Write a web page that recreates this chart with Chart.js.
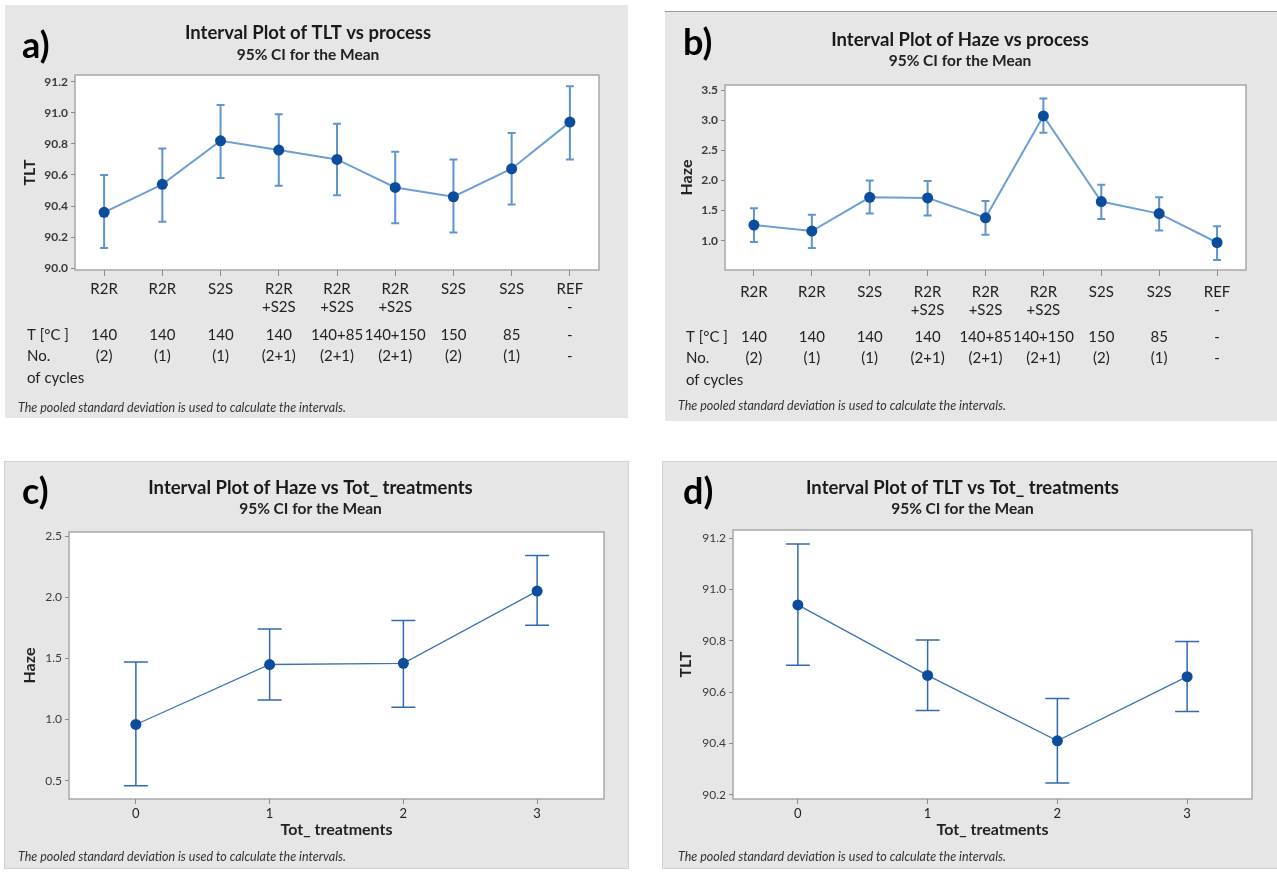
<!DOCTYPE html>
<html>
<head>
<meta charset="utf-8">
<script src="https://cdn.jsdelivr.net/npm/chart.js@4.4.1/dist/chart.umd.min.js"></script>
<style>
    body { margin: 0; background: #fff; width: 1277px; height: 872px; position: relative; overflow: hidden; }
    .panel { position: absolute; background: #e6e6e6; }
</style>
</head>
<body>
<div class="panel" style="left:5px;top:5px;width:623px;height:413px"><canvas id="chartA"></canvas></div>
<div class="panel" style="left:665px;top:11px;width:612px;height:409px;border-top:1px solid #9a9a9a"><canvas id="chartB"></canvas></div>
<div class="panel" style="left:5px;top:462px;width:623px;height:406px;outline:1px solid #d2d2d2"><canvas id="chartC"></canvas></div>
<div class="panel" style="left:663px;top:462px;width:614px;height:406px;outline:1px solid #d2d2d2"><canvas id="chartD"></canvas></div>
<script>
// categories
const processLabels = [['R2R'], ['R2R'], ['S2S'], ['R2R', '+S2S'], ['R2R', '+S2S'], ['R2R', '+S2S'], ['S2S'], ['S2S'], ['REF', '-']];
const tempLabels = ['140', '140', '140', '140', '140+85', '140+150', '150', '85', '-'];
const cycleLabels = ['(2)', '(1)', '(1)', '(2+1)', '(2+1)', '(2+1)', '(2)', '(1)', '-'];
const treatLabels = ['0', '1', '2', '3'];

// a) TLT vs process
const tltProcMean = [90.36, 90.54, 90.82, 90.76, 90.70, 90.52, 90.46, 90.64, 90.94];
const tltProcLow  = [90.13, 90.30, 90.58, 90.53, 90.47, 90.29, 90.23, 90.41, 90.70];
const tltProcHigh = [90.60, 90.77, 91.05, 90.99, 90.93, 90.75, 90.70, 90.87, 91.17];
const tltProcTicks = [90.0, 90.2, 90.4, 90.6, 90.8, 91.0, 91.2];

// b) Haze vs process
const hazeProcMean = [1.26, 1.16, 1.72, 1.71, 1.38, 3.07, 1.65, 1.45, 0.97];
const hazeProcLow  = [0.98, 0.88, 1.45, 1.42, 1.10, 2.79, 1.36, 1.17, 0.68];
const hazeProcHigh = [1.54, 1.43, 2.00, 1.99, 1.66, 3.36, 1.93, 1.72, 1.24];
const hazeProcTicks = [1.0, 1.5, 2.0, 2.5, 3.0, 3.5];

// c) Haze vs Tot_ treatments
const hazeTreatMean = [0.96, 1.45, 1.46, 2.05];
const hazeTreatLow  = [0.46, 1.16, 1.10, 1.77];
const hazeTreatHigh = [1.47, 1.74, 1.81, 2.34];
const hazeTreatTicks = [0.5, 1.0, 1.5, 2.0, 2.5];

// d) TLT vs Tot_ treatments
const tltTreatMean = [90.94, 90.665, 90.41, 90.66];
const tltTreatLow  = [90.705, 90.528, 90.245, 90.524];
const tltTreatHigh = [91.177, 90.803, 90.575, 90.797];
const tltTreatTicks = [90.2, 90.4, 90.6, 90.8, 91.0, 91.2];

const footnote = 'The pooled standard deviation is used to calculate the intervals.';

Chart.defaults.font.family = 'Lato, "Open Sans", sans-serif';
Chart.defaults.color = '#222';

// white plot area with grey frame
const frame = {
    id: 'frame',
    beforeDraw(chart) {
        const a = chart.chartArea, ctx = chart.ctx;
        ctx.save();
        ctx.fillStyle = '#fff';
        ctx.fillRect(a.left, a.top, a.right - a.left, a.bottom - a.top);
        ctx.strokeStyle = '#a8a8a8';
        ctx.lineWidth = 1.5;
        ctx.strokeRect(a.left, a.top, a.right - a.left, a.bottom - a.top);
        ctx.restore();
    }
};

// confidence interval bars
const ciBars = {
    id: 'ciBars',
    beforeDatasetsDraw(chart, args, o) {
        const x = chart.scales.x, y = chart.scales.y, ctx = chart.ctx;
        ctx.save();
        ctx.strokeStyle = o.color;
        ctx.lineWidth = o.width;
        o.low.forEach((lo, i) => {
            const px = x.getPixelForValue(i);
            const y1 = y.getPixelForValue(lo), y2 = y.getPixelForValue(o.high[i]);
            ctx.beginPath();
            ctx.moveTo(px, y1); ctx.lineTo(px, y2);
            ctx.moveTo(px - o.cap, y1); ctx.lineTo(px + o.cap, y1);
            ctx.moveTo(px - o.cap, y2); ctx.lineTo(px + o.cap, y2);
            ctx.stroke();
        });
        ctx.restore();
    }
};

// panel letter, footnote and the extra label rows under the x axis
const extras = {
    id: 'extras',
    afterDraw(chart, args, o) {
        const ctx = chart.ctx, x = chart.scales.x;
        ctx.save();
        ctx.textBaseline = 'middle';
        ctx.fillStyle = '#000';
        ctx.font = 'bold 36px Lato, sans-serif';
        ctx.textAlign = 'left';
        ctx.fillText(o.letter, o.letterPos[0], o.letterPos[1]);

        ctx.fillStyle = '#333';
        ctx.font = 'italic 12.5px Lato, sans-serif';
        ctx.fillText(footnote, o.notePos[0], o.notePos[1]);

        if (o.rows) {
            ctx.fillStyle = '#222';
            ctx.font = '15px Lato, sans-serif';
            o.rows.forEach((row, r) => {
                ctx.textAlign = 'left';
                ctx.fillText(o.headers[r], o.headerX, o.rowY[r]);
                ctx.textAlign = 'center';
                (row || []).forEach((t, i) => ctx.fillText(t, x.getPixelForValue(i), o.rowY[r]));
            });
        }
        ctx.restore();
    }
};

function makeChart(id, c) {
    const dark = c.dark;
    const scales = {
        x: {
            type: 'category',
            offset: true,
            afterFit: s => { s.height = c.xHeight; },
            ticks: { autoSkip: false, maxRotation: 0, minRotation: 0, padding: c.xTickPad,
                     font: { size: c.xTickSize }, color: '#222' },
            grid: { drawOnChartArea: false, drawTicks: true, tickLength: c.xTickLen, color: '#8c8c8c', offset: false },
            border: { display: false },
            title: c.xTitle ? { display: true, text: c.xTitle, font: { size: 16, weight: 'bold' }, color: '#222',
                                padding: { top: 0, bottom: 7.4 } } : { display: false }
        },
        y: {
            min: c.yMin, max: c.yMax,
            afterBuildTicks: s => { s.ticks = c.ticks.map(v => ({ value: v })); },
            afterFit: s => { s.width = c.yWidth; },
            ticks: { callback: v => Number(v).toFixed(1), padding: 3,
                     font: { size: 12, weight: dark ? 'normal' : 'bold' }, color: '#3a3a3a' },
            grid: { drawOnChartArea: false, drawTicks: true, tickLength: 4, color: '#8c8c8c' },
            border: { display: false },
            title: { display: true, text: c.yTitle, font: { size: 16, weight: 'bold' }, color: '#222',
                     padding: { top: 3, bottom: 0 } }
        }
    };
    return new Chart(document.getElementById(id), {
        type: 'line',
        data: {
            labels: c.labels,
            datasets: [{
                data: c.mean,
                borderColor: dark ? '#3a74ba' : '#6d9fd5',
                borderWidth: dark ? 1.3 : 2,
                pointRadius: 5.5,
                pointBackgroundColor: '#0b4c9c',
                pointBorderWidth: 0,
                tension: 0
            }]
        },
        options: {
            responsive: true,
            maintainAspectRatio: false,
            animation: false,
            layout: { padding: c.pad },
            scales: scales,
            plugins: {
                legend: { display: false },
                tooltip: { enabled: false },
                title: { display: true, text: c.title, font: { size: 18.5, weight: 'bold' }, color: '#1a1a1a',
                         padding: { top: c.titleTop, bottom: 0 } },
                subtitle: { display: true, text: '95% CI for the Mean', font: { size: 15.5, weight: 'bold' }, color: '#222',
                            padding: { top: c.subTop, bottom: c.subBottom } },
                ciBars: { low: c.low, high: c.high, color: dark ? '#2f6bb4' : '#5f95cf',
                          width: dark ? 1.5 : 2, cap: dark ? 12 : 4 },
                extras: c.extras
            }
        },
        plugins: [frame, ciBars, extras]
    });
}

makeChart('chartA', {
    labels: processLabels, mean: tltProcMean, low: tltProcLow, high: tltProcHigh,
    ticks: tltProcTicks, yMin: 89.989, yMax: 91.243, yTitle: 'TLT',
    title: 'Interval Plot of TLT vs process',
    pad: { left: 12, right: 29, top: 0, bottom: 0 }, yWidth: 58, xHeight: 148,
    xTickPad: 4, xTickLen: 6, xTickSize: 15,
    titleTop: 16.9, subTop: 1.6, subBottom: 10.7,
    extras: { letter: 'a)', letterPos: [17, 41], notePos: [13, 403],
              rows: [tempLabels, cycleLabels, null], headers: ['T [°C ]', 'No.', 'of cycles'],
              headerX: 22, rowY: [330, 351, 373] }
});

makeChart('chartB', {
    labels: processLabels, mean: hazeProcMean, low: hazeProcLow, high: hazeProcHigh,
    ticks: hazeProcTicks, yMin: 0.514, yMax: 3.583, yTitle: 'Haze',
    title: 'Interval Plot of Haze vs process',
    pad: { left: 9, right: 31, top: 0, bottom: 0 }, yWidth: 51, xHeight: 151,
    xTickPad: 7, xTickLen: 6, xTickSize: 15,
    titleTop: 16.9, subTop: 0.6, subBottom: 14.7,
    extras: { letter: 'b)', letterPos: [18, 31], notePos: [13, 394],
              rows: [tempLabels, cycleLabels, null], headers: ['T [°C ]', 'No.', 'of cycles'],
              headerX: 21, rowY: [325, 346, 368] }
});

makeChart('chartC', {
    labels: treatLabels, mean: hazeTreatMean, low: hazeTreatLow, high: hazeTreatHigh,
    ticks: hazeTreatTicks, yMin: 0.351, yMax: 2.533, yTitle: 'Haze', dark: true,
    title: 'Interval Plot of Haze vs Tot_ treatments', xTitle: 'Tot_ treatments',
    pad: { left: 12, right: 24, top: 0, bottom: 21 }, yWidth: 52, xHeight: 48,
    xTickPad: 2, xTickLen: 5, xTickSize: 13,
    titleTop: 14.9, subTop: 0.6, subBottom: 13.7,
    extras: { letter: 'c)', letterPos: [17, 30], notePos: [13, 395] }
});

makeChart('chartD', {
    labels: treatLabels, mean: tltTreatMean, low: tltTreatLow, high: tltTreatHigh,
    ticks: tltTreatTicks, yMin: 90.183, yMax: 91.232, yTitle: 'TLT', dark: true,
    title: 'Interval Plot of TLT vs Tot_ treatments', xTitle: 'Tot_ treatments',
    pad: { left: 10, right: 25, top: 0, bottom: 21 }, yWidth: 60, xHeight: 48,
    xTickPad: 2, xTickLen: 5, xTickSize: 13,
    titleTop: 14.9, subTop: 0.6, subBottom: 11.7,
    extras: { letter: 'd)', letterPos: [20, 30], notePos: [15, 395] }
});
</script>
</body>
</html>
